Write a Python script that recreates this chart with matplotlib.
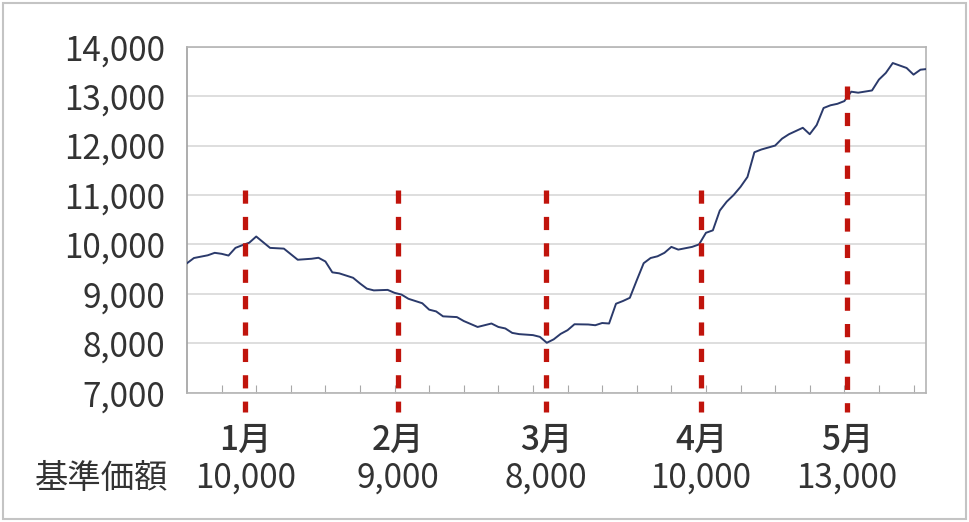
import matplotlib
matplotlib.use("Agg")
import matplotlib.pyplot as plt
import matplotlib.transforms as mtransforms
from matplotlib.patches import Rectangle

plt.rcParams['font.family'] = ['Noto Sans CJK JP', 'DejaVu Sans']

# price path (business-day index, value)
days = [0, 1, 3, 4, 5, 6, 7, 8, 9, 10, 12, 14, 16, 18, 19, 20, 21, 22, 24, 25,
        26, 27, 29, 30, 31, 32, 34, 35, 36, 37, 39, 40, 42, 43, 44, 45, 46, 47,
        48, 50, 51, 52, 53, 54, 55, 56, 58, 59, 60, 61, 62, 63, 64, 65, 66, 67,
        68, 69, 70, 71, 73, 74, 75, 76, 77, 78, 79, 80, 81, 82, 83, 85, 86, 87,
        89, 90, 91, 92, 93, 94, 95, 96, 97, 99, 100, 101, 102, 104, 105, 106, 107]
prices = [9620, 9725, 9780, 9830, 9810, 9775, 9930, 9985, 10035, 10160, 9930,
          9915, 9690, 9710, 9730, 9655, 9435, 9415, 9325, 9210, 9105, 9070,
          9080, 9020, 8985, 8900, 8810, 8680, 8645, 8545, 8530, 8450, 8330,
          8365, 8400, 8330, 8300, 8210, 8185, 8165, 8130, 8010, 8080, 8190,
          8265, 8385, 8380, 8365, 8410, 8400, 8800, 8855, 8920, 9275, 9620,
          9725, 9760, 9830, 9950, 9895, 9950, 10000, 10235, 10285, 10685,
          10865, 11000, 11165, 11365, 11865, 11920, 12000, 12140, 12230, 12360,
          12230, 12415, 12760, 12815, 12845, 12900, 13090, 13070, 13115, 13335,
          13470, 13670, 13570, 13435, 13535, 13550]

# month markers
month_days = [8.4, 30.5, 51.9, 74.3, 95.4]
month_labels = ['1月', '2月', '3月', '4月', '5月']
base_prices = ['10,000', '9,000', '8,000', '10,000', '13,000']
marker_tops = [11100, 11100, 11100, 11100, 13200]

yticks = [7000, 8000, 9000, 10000, 11000, 12000, 13000, 14000]

fig = plt.figure(figsize=(9.69, 5.22), dpi=100)
ax = fig.add_axes([0.193, 0.2477, 0.7626, 0.6628])

ax.plot(days, prices, color='#2b3a6b', lw=1.4, zorder=3)

for d, top in zip(month_days, marker_tops):
    ax.plot([d, d], [top, 6600], color='#c0140c', lw=3.8, dashes=(2.5, 2.5),
            solid_capstyle='butt', clip_on=False, zorder=4)

ax.set_xlim(0, 106.8)
ax.set_ylim(7000, 14000)
ax.set_yticks(yticks)
ax.set_yticklabels([f'{v:,}' for v in yticks])
ax.set_xticks(range(5, 106, 5))
ax.set_xticklabels([])
ax.tick_params(axis='x', direction='in', length=6, color='#a8a8a8')
ax.tick_params(axis='y', length=0, pad=16, labelsize=24, labelcolor='#333333')
ax.grid(axis='y', color='#d4d4d4', lw=1.1)
ax.set_axisbelow(True)
for s in ax.spines.values():
    s.set_color('#b4b4b4')
    s.set_linewidth(1.2)
ax.spines['left'].set_color('#a0a0a0')

tr = mtransforms.blended_transform_factory(ax.transData, fig.transFigure)
for d, lab, bp in zip(month_days, month_labels, base_prices):
    ax.text(d, 0.157, lab, transform=tr, ha='center', va='center',
            fontsize=24, fontweight='medium', color='#333333')
    ax.text(d, 0.084, bp, transform=tr, ha='center', va='center',
            fontsize=24, color='#333333')
fig.text(0.105, 0.084, '基準価額', ha='center', va='center', fontsize=24,
         color='#333333')

fig.patches.append(Rectangle((0.003, 0.005), 0.994, 0.99, transform=fig.transFigure,
                             fill=False, edgecolor='#c4c4c4', lw=1.5))

fig.savefig('out.png', dpi=100)
